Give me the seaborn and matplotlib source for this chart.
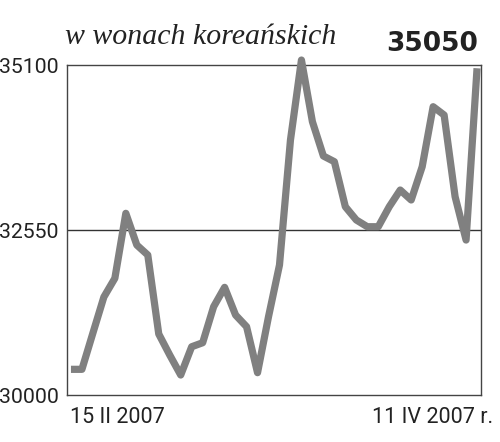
import matplotlib
matplotlib.use("Agg")
import matplotlib.pyplot as plt
import seaborn as sns
import pandas as pd
import numpy as np

# data
values = [30397, 30397, 30958, 31515, 31804, 32808, 32318, 32164, 30943, 30618,
          30309, 30746, 30808, 31365, 31664, 31236, 31056, 30345, 31210, 32009,
          33941, 35177, 34224, 33694, 33606, 32910, 32705, 32601, 32601, 32910,
          33168, 33014, 33528, 34456, 34327, 33065, 32395, 35050]
y_ticks = [30000, 32550, 35100]
y_tick_labels = ["30000", "32550", "35100"]
x_labels = ["15 II 2007", "11 IV 2007 r."]
title = "w wonach koreańskich"
last_value_label = "35050"

df = pd.DataFrame({"idx": np.arange(len(values)), "value": values})

sns.set_theme(style="white")
plt.rcParams['font.family'] = ['Roboto', 'DejaVu Sans']

fig = plt.figure(figsize=(5.0, 4.42), dpi=100)
ax = fig.add_axes([0.134, 0.1063, 0.828, 0.7466])

sns.lineplot(data=df, x="idx", y="value", ax=ax, color="#808080", linewidth=5.2,
             solid_joinstyle="round", solid_capstyle="butt", zorder=3)
for ln in ax.lines:
    ln.set_clip_on(False)

ax.axhline(y_ticks[1], color="#333333", linewidth=1.0, zorder=2)

ax.set_xlim(-0.36, len(values) - 1 + 0.36)
ax.set_ylim(y_ticks[0], y_ticks[-1])
ax.set_yticks(y_ticks)
ax.set_yticklabels(y_tick_labels, fontsize=15.3, color="#222222")
ax.tick_params(axis="y", length=0, pad=6)
ax.set_xticks([])
ax.set_xlabel("")
ax.set_ylabel("")
for s in ax.spines.values():
    s.set_visible(True)
    s.set_color("#444444")
    s.set_linewidth(1.0)

ax.text(3 / 414, -0.035, x_labels[0], transform=ax.transAxes, ha="left", va="top",
        fontsize=15.5, color="#222222")
ax.text(1 + 12 / 414, -0.035, x_labels[1], transform=ax.transAxes, ha="right", va="top",
        fontsize=15.5, color="#222222")

fig.text(65 / 500, 1 - 37 / 442, title, ha="left", va="center", fontsize=21.5,
         family=["Liberation Serif", "DejaVu Serif"], style="italic", color="#222222")
fig.text(478 / 500, 1 - 44 / 442, last_value_label, ha="right", va="center", fontsize=19,
         family=["DejaVu Sans"], weight="bold", color="#222222")

fig.savefig("out.png", dpi=100, facecolor="white")
